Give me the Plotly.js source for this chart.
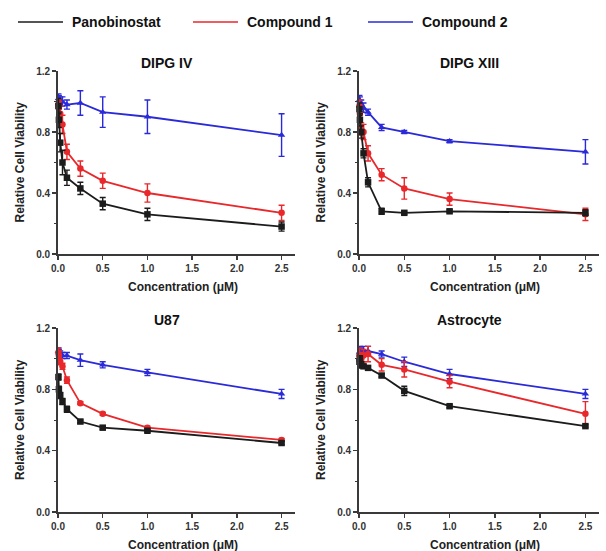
<!DOCTYPE html>
<html>
<head>
<meta charset="utf-8">
<script src="https://cdn.plot.ly/plotly-3.0.1.min.js"></script>
<style>html,body{margin:0;padding:0;background:#fff;}#chart{width:606px;height:551px;}</style>
</head>
<body>
<div id="chart"></div>
<script>
// ---- data ----
const conc = [0.005, 0.01, 0.025, 0.05, 0.1, 0.25, 0.5, 1.0, 2.5];
const seriesNames = ["Panobinostat", "Compound 1", "Compound 2"];
const panelTitles = ["DIPG IV", "DIPG XIII", "U87", "Astrocyte"];

// DIPG IV
const dipg4_pano = [0.97, 0.88, 0.73, 0.60, 0.50, 0.43, 0.33, 0.26, 0.18];
const dipg4_pano_err = [0.05, 0.05, 0.06, 0.08, 0.05, 0.04, 0.04, 0.04, 0.03];
const dipg4_c1 = [0.98, 0.96, 0.92, 0.85, 0.67, 0.56, 0.48, 0.40, 0.27];
const dipg4_c1_err = [0.03, 0.04, 0.05, 0.06, 0.05, 0.05, 0.05, 0.06, 0.05];
const dipg4_c2 = [1.02, 1.01, 1.01, 1.00, 0.98, 0.99, 0.93, 0.90, 0.78];
const dipg4_c2_err = [0.03, 0.03, 0.02, 0.03, 0.03, 0.08, 0.10, 0.11, 0.14];

// DIPG XIII
const dipg13_pano = [0.95, 0.88, 0.80, 0.66, 0.47, 0.28, 0.27, 0.28, 0.27];
const dipg13_pano_err = [0.04, 0.04, 0.04, 0.03, 0.03, 0.02, 0.01, 0.01, 0.02];
const dipg13_c1 = [0.97, 0.92, 0.82, 0.80, 0.66, 0.52, 0.43, 0.36, 0.26];
const dipg13_c1_err = [0.04, 0.04, 0.04, 0.05, 0.05, 0.04, 0.07, 0.04, 0.04];
const dipg13_c2 = [1.01, 1.00, 0.98, 0.96, 0.93, 0.83, 0.80, 0.74, 0.67];
const dipg13_c2_err = [0.03, 0.03, 0.03, 0.03, 0.02, 0.02, 0.01, 0.01, 0.08];

// U87
const u87_pano = [0.88, 0.80, 0.76, 0.72, 0.67, 0.59, 0.55, 0.53, 0.45];
const u87_pano_err = [0.02, 0.02, 0.02, 0.02, 0.02, 0.01, 0.01, 0.01, 0.01];
const u87_c1 = [1.04, 1.02, 0.98, 0.95, 0.86, 0.71, 0.64, 0.55, 0.47];
const u87_c1_err = [0.03, 0.03, 0.02, 0.02, 0.02, 0.01, 0.01, 0.01, 0.01];
const u87_c2 = [1.05, 1.04, 1.03, 1.02, 1.02, 0.99, 0.96, 0.91, 0.77];
const u87_c2_err = [0.02, 0.02, 0.02, 0.02, 0.02, 0.04, 0.02, 0.02, 0.03];

// Astrocyte
const astro_pano = [0.98, 1.00, 0.96, 0.95, 0.94, 0.89, 0.79, 0.69, 0.56];
const astro_pano_err = [0.04, 0.02, 0.02, 0.01, 0.01, 0.01, 0.03, 0.01, 0.01];
const astro_c1 = [1.02, 1.00, 1.00, 1.02, 1.03, 0.96, 0.93, 0.85, 0.64];
const astro_c1_err = [0.05, 0.04, 0.03, 0.04, 0.05, 0.04, 0.05, 0.04, 0.08];
const astro_c2 = [1.04, 1.05, 1.04, 1.05, 1.05, 1.03, 0.98, 0.90, 0.77];
const astro_c2_err = [0.03, 0.03, 0.03, 0.03, 0.03, 0.02, 0.03, 0.03, 0.03];

// ---- styles ----
const colors = ["#1c1c1c", "#e8282b", "#2a2ad8"];
const symbols = ["square", "circle", "triangle-up"];
const FONT = "Liberation Sans, Arial, Helvetica, sans-serif";
const AX = "#3a3a3a";

const panels = [
  {vals: [dipg4_pano, dipg4_c1, dipg4_c2], errs: [dipg4_pano_err, dipg4_c1_err, dipg4_c2_err]},
  {vals: [dipg13_pano, dipg13_c1, dipg13_c2], errs: [dipg13_pano_err, dipg13_c1_err, dipg13_c2_err]},
  {vals: [u87_pano, u87_c1, u87_c2], errs: [u87_pano_err, u87_c1_err, u87_c2_err]},
  {vals: [astro_pano, astro_c1, astro_c2], errs: [astro_pano_err, astro_c1_err, astro_c2_err]}
];

const W = 606, H = 551;
// pixel boxes of plot areas: [left, right, top(1.2), bottom(0)]
const boxes = [
  [58, 295, 71, 254],
  [359, 599, 71, 254],
  [58, 295, 328, 512],
  [359, 599, 328, 512]
];

const traces = [];
panels.forEach((p, pi) => {
  const xa = pi === 0 ? "x" : "x" + (pi + 1);
  const ya = pi === 0 ? "y" : "y" + (pi + 1);
  [2, 1, 0].forEach(si => {
    traces.push({
      type: "scatter", mode: "lines+markers",
      x: conc, y: p.vals[si],
      xaxis: xa, yaxis: ya,
      name: seriesNames[si], showlegend: false,
      line: {color: colors[si], width: 1.8},
      marker: {color: colors[si], symbol: symbols[si], size: 6.5},
      error_y: {type: "data", array: p.errs[si], visible: true, color: colors[si], thickness: 1.4, width: 3},
      cliponaxis: false
    });
  });
});

const layout = {
  width: W, height: H,
  margin: {l: 0, r: 0, t: 0, b: 0},
  paper_bgcolor: "#fff", plot_bgcolor: "#fff",
  font: {family: FONT, color: "#222"},
  showlegend: false,
  shapes: [], annotations: []
};

boxes.forEach((b, i) => {
  const xk = i === 0 ? "xaxis" : "xaxis" + (i + 1);
  const yk = i === 0 ? "yaxis" : "yaxis" + (i + 1);
  const yanchor = i === 0 ? "y" : "y" + (i + 1);
  const xanchor = i === 0 ? "x" : "x" + (i + 1);
  layout[xk] = {
    domain: [b[0] / W, b[1] / W], anchor: yanchor,
    range: [0, 2.65], tickvals: [0, 0.5, 1.0, 1.5, 2.0, 2.5],
    ticktext: ["0.0", "0.5", "1.0", "1.5", "2.0", "2.5"],
    showgrid: false, zeroline: false, showline: true, linecolor: AX, linewidth: 1.8,
    ticks: "outside", ticklen: 4, tickwidth: 1.5, tickcolor: AX,
    tickfont: {family: FONT, size: 10, color: "#333", weight: "bold"}
  };
  layout[yk] = {
    domain: [1 - b[3] / H, 1 - b[2] / H], anchor: xanchor,
    range: [0, 1.2], tickvals: [0, 0.4, 0.8, 1.2],
    ticktext: ["0.0", "0.4", "0.8", "1.2"],
    showgrid: false, zeroline: false, showline: true, linecolor: AX, linewidth: 1.8,
    ticks: "outside", ticklen: 4, tickwidth: 1.5, tickcolor: AX,
    minor: {tickvals: [0.2, 0.6, 1.0], ticks: "outside", ticklen: 2, tickwidth: 1, tickcolor: AX},
    tickfont: {family: FONT, size: 10, color: "#333", weight: "bold"}
  };
  const cx = (b[0] + b[1]) / 2;
  layout.annotations.push({
    xref: "paper", yref: "paper", x: (cx - 10) / W, y: 1 - (b[2] - 8) / H,
    text: panelTitles[i], showarrow: false, xanchor: "center", yanchor: "middle",
    font: {family: FONT, size: 14, color: "#111", weight: "bold"}
  });
  layout.annotations.push({
    xref: "paper", yref: "paper", x: (cx + 6) / W, y: 1 - (b[3] + 33) / H,
    text: "Concentration (μM)", showarrow: false, xanchor: "center", yanchor: "middle",
    font: {family: FONT, size: 12, color: "#222", weight: "bold"}
  });
  layout.annotations.push({
    xref: "paper", yref: "paper", x: (b[0] - 38) / W, y: 1 - ((b[2] + b[3]) / 2) / H,
    text: "Relative Cell Viability", showarrow: false, textangle: -90,
    xanchor: "center", yanchor: "middle",
    font: {family: FONT, size: 12, color: "#222", weight: "bold"}
  });
});

// legend (top row)
const legX = [18, 193, 368];
seriesNames.forEach((n, i) => {
  layout.shapes.push({
    type: "line", xref: "paper", yref: "paper",
    x0: legX[i] / W, x1: (legX[i] + 45) / W, y0: 1 - 22 / H, y1: 1 - 22 / H,
    line: {color: colors[i], width: 1.5}
  });
  layout.annotations.push({
    xref: "paper", yref: "paper", x: (legX[i] + 52) / W, y: 1 - 22 / H,
    text: n, showarrow: false, xanchor: "left", yanchor: "middle",
    font: {family: FONT, size: 14, color: "#111", weight: "bold"}
  });
});

Plotly.newPlot("chart", traces, layout, {staticPlot: true, displayModeBar: false});
</script>
</body>
</html>
